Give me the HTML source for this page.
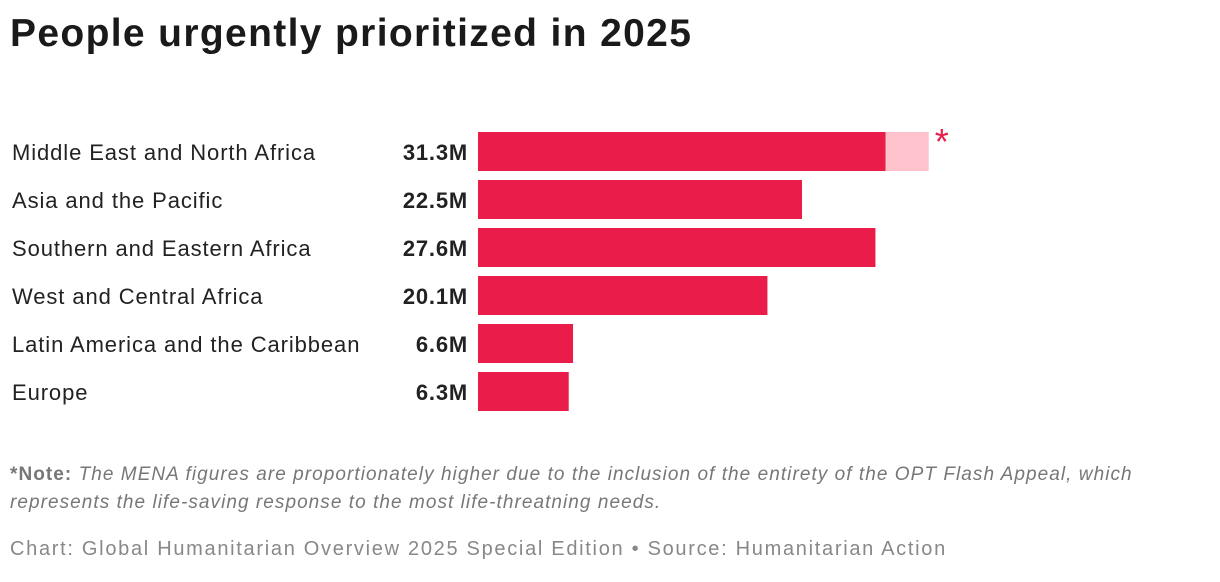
<!DOCTYPE html>
<html><head><meta charset="utf-8"><style>
body{margin:0;width:1220px;height:582px;background:#fff;font-family:"Liberation Sans",sans-serif;position:relative;overflow:hidden}
h1{position:absolute;left:10px;top:12px;margin:0;font-size:39px;font-weight:bold;color:#1a1a1a;letter-spacing:1.35px;white-space:nowrap}
.note{position:absolute;left:10px;top:461px;font-size:19px;color:#777;line-height:28px;width:1210px;letter-spacing:1.05px;white-space:nowrap}
.src{position:absolute;left:10px;top:538px;font-size:20px;color:#888;letter-spacing:1.7px;white-space:nowrap}
</style></head><body>
<h1>People urgently prioritized in 2025</h1>
<svg id="chart" width="1220" height="430" style="position:absolute;left:0;top:0"></svg>
<div class="note"><b>*Note:</b> <i>The MENA figures are proportionately higher due to the inclusion of the entirety of the OPT Flash Appeal, which<br>represents the life-saving response to the most life-threatning needs.</i></div>
<div class="src">Chart: Global Humanitarian Overview 2025 Special Edition • Source: Humanitarian Action</div>
<script>
const categories=["Middle East and North Africa","Asia and the Pacific","Southern and Eastern Africa","West and Central Africa","Latin America and the Caribbean","Europe"];
const values=[31.3,22.5,27.6,20.1,6.6,6.3];
const baseValues=[28.3,22.5,27.6,20.1,6.6,6.3];
const labels=["31.3M","22.5M","27.6M","20.1M","6.6M","6.3M"];
const NS="http://www.w3.org/2000/svg";
const svg=document.getElementById('chart');
const x=v=>478+v*14.4;
const y=i=>132+i*48;
function mk(t,a){const e=document.createElementNS(NS,t);for(const k in a)e.setAttribute(k,a[k]);svg.appendChild(e);return e;}
categories.forEach((c,i)=>{
  const t=mk('text',{x:12,y:y(i)+28,'font-size':22,fill:'#222','letter-spacing':'0.9'});t.textContent=c;
  
  
  const v=mk('text',{x:468,y:y(i)+28,'font-size':22,'font-weight':'bold','text-anchor':'end',fill:'#222','letter-spacing':'0.8'});v.textContent=labels[i];
  
  
  if(values[i]>baseValues[i]){
    const l=mk('rect',{x:x(baseValues[i]),y:y(i),width:x(values[i])-x(baseValues[i]),height:39,fill:'#fdc2cc'});
    
    
    const s=mk('text',{x:x(values[i])+6,y:y(i)+22,'font-size':36,fill:'#ea1d4a'});s.textContent='*';
    
    
  }
  const b=mk('rect',{x:478,y:y(i),width:x(baseValues[i])-478,height:39,fill:'#ea1d4a'});
  
  
});
</script>
</body></html>
